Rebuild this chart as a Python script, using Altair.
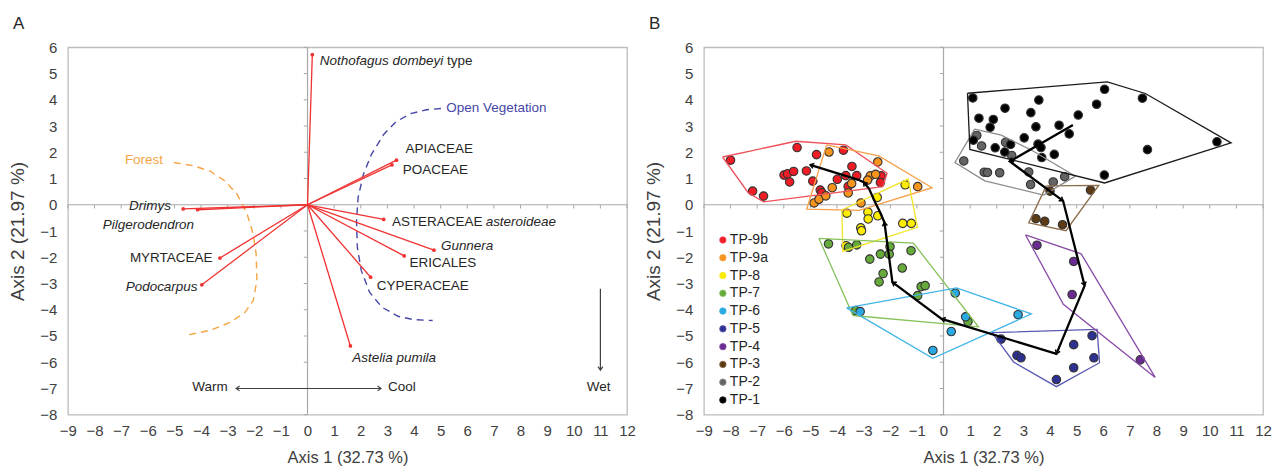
import math
import altair as alt
import pandas as pd

# ---------------- common ----------------
XDOM = [-9, 12]
YDOM = [-8, 6]
W, H = 560, 368
SX, SY = W / 21.0, H / 14.0
FN = "Liberation Sans, Arial, sans-serif"
TXT = "#262626"

x_ticks = list(range(-9, 13))
y_ticks = list(range(-8, 7))

# ---------------- Panel A data ----------------
taxa = ["Nothofagus dombeyi type", "APIACEAE", "POACEAE", "Drimys", "Pilgerodendron",
        "ASTERACEAE asteroideae", "Gunnera", "ERICALES", "CYPERACEAE", "MYRTACEAE",
        "Podocarpus", "Astelia pumila"]
taxa_x = [0.18, 3.34, 3.17, -4.67, -4.13, 2.86, 4.75, 3.63, 2.37, -3.29, -3.97, 1.61]
taxa_y = [5.72, 1.70, 1.52, -0.16, -0.19, -0.56, -1.73, -1.95, -2.76, -2.03, -3.05, -5.38]

lab_text = ["Nothofagus dombeyi", "type", "APIACEAE", "POACEAE", "Drimys", "Pilgerodendron",
            "ASTERACEAE", "asteroideae", "Gunnera", "ERICALES", "CYPERACEAE", "MYRTACEAE",
            "Podocarpus", "Astelia pumila"]
lab_x = [0.46, 5.24, 3.68, 3.58, -5.13, -4.26, 3.17, 6.69, 5.01, 3.83, 2.60, -3.57, -4.13, 1.68]
lab_y = [5.49, 5.49, 2.11, 1.32, -0.04, -0.76, -0.67, -0.67, -1.58, -2.22, -3.08, -2.03, -3.14, -5.82]
lab_align = ["left", "left", "left", "left", "right", "right", "left", "left", "left", "left",
             "left", "right", "right", "left"]
lab_italic = [1, 0, 0, 0, 1, 1, 0, 1, 1, 0, 0, 0, 1, 1]

forest_x = [-5.02, -4.26, -3.64, -3.11, -2.65, -2.27, -2.04, -1.93, -1.90, -2.04, -2.34, -2.88, -3.64, -4.56]
forest_y = [1.61, 1.48, 1.27, 0.91, 0.41, -0.35, -1.11, -1.87, -2.89, -3.65, -4.09, -4.47, -4.78, -4.97]
openveg_x = [5.01, 4.47, 3.86, 3.32, 2.86, 2.40, 2.10, 1.90, 1.84, 1.87, 2.02, 2.33, 2.79, 3.40, 4.01, 4.70]
openveg_y = [3.67, 3.62, 3.47, 3.16, 2.68, 1.92, 1.16, 0.28, -0.61, -1.62, -2.51, -3.33, -3.90, -4.25, -4.38, -4.41]

group_lab = ["Forest", "Open Vegetation"]
group_lab_x = [-6.86, 5.21]
group_lab_y = [1.70, 3.67]
group_lab_col = ["#F5A446", "#4646A6"]

ann_text = ["Warm", "Cool", "Wet"]
ann_x = [-3.0, 3.02, 10.93]
ann_y = [-6.94, -6.94, -6.94]
ann_align = ["right", "left", "center"]

arrow_x = [-2.68, 11.0]
arrow_x2 = [2.76, 11.0]
arrow_y = [-7.0, -3.2]
arrow_y2 = [-7.0, -6.3]
ahead_x = [2.76, -2.68, 11.0]
ahead_y = [-7.0, -7.0, -6.3]
ahead_ang = [90, 270, 180]

# ---------------- Panel B data ----------------
groups = ["TP-9b", "TP-9a", "TP-8", "TP-7", "TP-6", "TP-5", "TP-4", "TP-3", "TP-2", "TP-1"]
fill_cols = ["#EE1C25", "#F7941D", "#FFED00", "#66AA3C", "#2AAAE2", "#2E3192", "#6A2C91",
             "#5B3A14", "#646464", "#000000"]
line_cols = ["#F0505A", "#F7A04A", "#F2E425", "#86C25A", "#40B4E6", "#5A5AB4", "#8A4CA8",
             "#8C6A48", "#8C8C8C", "#1A1A1A"]

tp9b_x = [-8.0, -5.50, -4.77, -3.76, -3.44, -7.17, -6.76, -5.99, -5.86, -5.63, -5.78, -5.15,
          -4.91, -4.63, -4.57, -3.99, -3.67, -3.58, -3.26, -2.34, -2.37]
tp9b_y = [1.70, 2.18, 1.91, 2.08, 1.46, 0.52, 0.33, 1.13, 1.18, 1.27, 0.87, 1.29,
          0.90, 0.56, 0.46, 0.97, 1.11, 0.70, 1.11, 1.10, 0.85]
tp9a_x = [-4.30, -2.47, -4.18, -3.45, -2.75, -2.55, -2.85, -3.10, -3.58, -4.86, -4.68, -4.42, -0.97]
tp9a_y = [2.01, 1.63, 0.65, 0.81, 1.10, 1.16, 0.94, 0.07, 0.45, 0.07, 0.21, 0.34, 0.69]
tp8_x = [-1.44, -2.49, -3.63, -2.84, -2.83, -2.47, -3.11, -3.08, -1.53, -1.21, -3.66]
tp8_y = [0.76, 0.28, -0.32, -0.28, -0.54, -0.42, -0.88, -0.99, -0.71, -0.71, -1.56]
tp7_x = [-4.32, -3.57, -3.26, -2.01, -2.04, -2.37, -2.77, -1.22, -1.55, -2.27, -2.42,
         -0.84, -0.69, -0.97, -3.30, 0.92]
tp7_y = [-1.49, -1.62, -1.53, -1.60, -1.88, -1.88, -2.07, -1.75, -2.41, -2.62, -2.94,
         -3.12, -3.08, -3.46, -4.03, -4.45]
tp6_x = [0.44, -3.13, 0.83, 2.80, 0.29, -0.40]
tp6_y = [-3.37, -4.07, -4.27, -4.19, -4.83, -5.55]
tp5_x = [2.16, 2.76, 2.91, 4.89, 5.58, 5.65, 4.89, 4.24]
tp5_y = [-5.12, -5.74, -5.83, -5.33, -4.99, -5.83, -6.21, -6.66]
tp4_x = [3.51, 4.89, 4.83, 7.39]
tp4_y = [-1.54, -2.16, -3.42, -5.91]
tp3_x = [3.47, 3.80, 4.47, 4.00, 5.52]
tp3_y = [-0.53, -0.63, -0.76, 0.52, 0.56]
tp2_x = [1.25, 1.43, 0.76, 1.53, 1.65, 2.11, 2.33, 2.56, 3.20, 3.27, 4.12, 4.55]
tp2_y = [2.64, 2.24, 1.67, 1.24, 1.23, 1.22, 2.38, 1.88, 1.25, 0.77, 0.87, 1.07]
tp1_x = [1.10, 6.05, 7.47, 3.58, 2.31, 3.28, 5.75, 1.33, 1.87, 1.75, 3.47, 4.34, 5.06, 3.03,
         4.72, 1.12, 1.94, 2.30, 2.52, 3.55, 3.66, 3.69, 4.16, 7.66, 10.27, 6.04]
tp1_y = [4.07, 4.40, 4.06, 3.99, 3.68, 3.51, 3.83, 3.30, 3.25, 2.95, 2.97, 3.03, 3.42, 2.55,
         2.70, 2.46, 2.17, 2.01, 2.30, 2.31, 2.18, 1.80, 1.92, 2.10, 2.40, 1.13]

poly9b_x = [-8.30, -5.55, -3.67, -2.12, -2.28, -6.76, -7.33]
poly9b_y = [1.82, 2.42, 2.28, 1.20, 0.69, 0.11, 0.45]
poly9a_x = [-4.39, -2.43, -0.43, -3.17, -5.14]
poly9a_y = [2.28, 1.86, 0.65, -0.21, -0.17]
poly8_x = [-3.82, -1.33, -0.98, -3.78]
poly8_y = [-0.20, 0.98, -0.86, -1.78]
poly7_x = [-4.68, -1.13, 1.31, -3.40]
poly7_y = [-1.28, -1.46, -4.65, -4.22]
poly6_x = [-3.64, 0.49, 3.30, -0.40]
poly6_y = [-3.93, -3.17, -4.16, -5.85]
poly5_x = [1.82, 5.77, 5.86, 4.24, 2.63]
poly5_y = [-4.87, -4.75, -6.02, -6.93, -5.99]
poly4_x = [3.08, 5.17, 7.95, 4.50]
poly4_y = [-1.15, -1.87, -6.58, -3.79]
poly3_x = [3.86, 5.83, 4.60, 3.20]
poly3_y = [0.72, 0.74, -0.99, -0.69]
poly2_x = [1.17, 2.17, 2.61, 3.36, 4.95, 3.76, 1.55, 0.43]
poly2_y = [2.88, 2.65, 2.43, 2.05, 1.09, 0.37, 0.91, 1.61]
poly1_x = [0.90, 6.15, 7.58, 10.80, 6.05, 0.99]
poly1_y = [4.25, 4.68, 4.24, 2.36, 0.83, 2.11]

traj_x = [4.86, 2.49, 4.49, 5.30, 4.24, -0.07, -1.92, -2.22, -2.40, -2.57, -2.80, -3.00, -3.22, -5.01]
traj_y = [3.04, 1.65, 0.15, -3.08, -5.68, -4.35, -2.95, -0.67, -0.25, 0.10, 0.62, 0.86, 0.96, 1.52]
traj_heads = [1, 2, 3, 4, 5, 6, 7, 11, 13]

# ---------------- helpers ----------------
CHEV = "M-0.8,1.15L0,0L0.8,1.15"


def ang(dx, dy):
    return math.degrees(math.atan2(dx * SX, dy * SY)) % 360


xaxis = alt.Axis(values=x_ticks, title="Axis 1 (32.73 %)", labelPadding=9, titlePadding=11,
                 titleFont=FN, titleFontSize=16.5, labelFlush=False)
yaxis = alt.Axis(values=y_ticks, title="Axis 2 (21.97 %)", labelPadding=11, titlePadding=12,
                 titleFont=FN, titleFontSize=19, labelFlush=False)
xs = alt.Scale(domain=XDOM, nice=False, zero=False)
ys = alt.Scale(domain=YDOM, nice=False, zero=False)


def X(f):
    return alt.X(f, type="quantitative", scale=xs, axis=xaxis)


def Y(f):
    return alt.Y(f, type="quantitative", scale=ys, axis=yaxis)


def zero_layers():
    z = pd.DataFrame({"v": [0]})
    vl = alt.Chart(z).mark_rule(color="#A8A8A8", strokeWidth=1.2).encode(x=X("v"))
    hl = alt.Chart(z).mark_rule(color="#A8A8A8", strokeWidth=1.2).encode(y=Y("v"))
    tx = pd.DataFrame({"t": x_ticks, "z": [0] * len(x_ticks)})
    ty = pd.DataFrame({"t": y_ticks, "z": [0] * len(y_ticks)})
    tkx = alt.Chart(tx).mark_point(shape="M0,0L0,1", size=56, filled=False, color="#A8A8A8",
                                   strokeWidth=1, opacity=1).encode(x=X("t"), y=Y("z"))
    tky = alt.Chart(ty).mark_point(shape="M-1,0L0,0", size=56, filled=False, color="#A8A8A8",
                                   strokeWidth=1, opacity=1).encode(x=X("z"), y=Y("t"))
    return [vl, hl, tkx, tky]


# ---------------- Panel A ----------------
vec = pd.DataFrame({"taxon": taxa, "x": taxa_x, "y": taxa_y, "o": [0.0] * len(taxa)})
vec_lines = alt.Chart(vec).mark_rule(color="#F03232", strokeWidth=1.3).encode(
    x=X("o"), y=Y("o"), x2=alt.X2("x"), y2=alt.Y2("y"))
vec_tips = alt.Chart(vec).mark_circle(color="#F03232", size=14, opacity=1).encode(x=X("x"), y=Y("y"))

labs = pd.DataFrame({"t": lab_text, "x": lab_x, "y": lab_y, "al": lab_align, "it": lab_italic})
lab_layers = []
for al in ["left", "right"]:
    for it in [0, 1]:
        sub = labs[(labs.al == al) & (labs.it == it)]
        if len(sub) == 0:
            continue
        lab_layers.append(
            alt.Chart(sub).mark_text(align=al, baseline="middle", font=FN, fontSize=13.5,
                                     fontStyle="italic" if it else "normal", color=TXT)
            .encode(x=X("x"), y=Y("y"), text="t:N"))

curves = pd.DataFrame({
    "x": forest_x + openveg_x,
    "y": forest_y + openveg_y,
    "g": ["Forest"] * len(forest_x) + ["Open Vegetation"] * len(openveg_x),
    "i": list(range(len(forest_x))) + list(range(len(openveg_x))),
})
curve_layer = alt.Chart(curves).mark_line(strokeDash=[7, 5], strokeWidth=1.4).encode(
    x=X("x"), y=Y("y"), order="i:Q",
    color=alt.Color("g:N", scale=alt.Scale(domain=group_lab, range=group_lab_col), legend=None))
glabs = pd.DataFrame({"t": group_lab, "x": group_lab_x, "y": group_lab_y})
glab_layer = alt.Chart(glabs).mark_text(align="left", baseline="middle", font=FN, fontSize=13.5).encode(
    x=X("x"), y=Y("y"), text="t:N",
    color=alt.Color("t:N", scale=alt.Scale(domain=group_lab, range=group_lab_col), legend=None))

anns = pd.DataFrame({"t": ann_text, "x": ann_x, "y": ann_y, "al": ann_align})
ann_layers = []
for al in ["left", "right", "center"]:
    ann_layers.append(
        alt.Chart(anns[anns.al == al]).mark_text(align=al, baseline="middle", font=FN, fontSize=13.5,
                                                 color=TXT).encode(x=X("x"), y=Y("y"), text="t:N"))
arrows = pd.DataFrame({"x": arrow_x, "x2": arrow_x2, "y": arrow_y, "y2": arrow_y2})
arrow_layer = alt.Chart(arrows).mark_rule(color="#404040", strokeWidth=1.2).encode(
    x=X("x"), y=Y("y"), x2=alt.X2("x2"), y2=alt.Y2("y2"))
heads = pd.DataFrame({"x": ahead_x, "y": ahead_y, "a": ahead_ang})
head_layer = alt.Chart(heads).mark_point(shape=CHEV, size=36, filled=False, color="#404040",
                                         strokeWidth=1.2, opacity=1).encode(
    x=X("x"), y=Y("y"), angle=alt.Angle("a:Q", scale=None))

letterA = alt.Chart(pd.DataFrame({"t": ["A"]})).mark_text(
    align="left", baseline="alphabetic", font=FN, fontSize=17, color=TXT).encode(
    x=alt.value(-55), y=alt.value(-18), text="t:N")

panelA = alt.layer(*zero_layers(), curve_layer, vec_lines, vec_tips, *lab_layers, glab_layer,
                   *ann_layers, arrow_layer, head_layer, letterA).properties(width=W, height=H)

# ---------------- Panel B ----------------
pts_x = [tp9b_x, tp9a_x, tp8_x, tp7_x, tp6_x, tp5_x, tp4_x, tp3_x, tp2_x, tp1_x]
pts_y = [tp9b_y, tp9a_y, tp8_y, tp7_y, tp6_y, tp5_y, tp4_y, tp3_y, tp2_y, tp1_y]
rows = []
for g, xl, yl in zip(groups, pts_x, pts_y):
    for a, b in zip(xl, yl):
        rows.append({"g": g, "x": a, "y": b})
pts = pd.DataFrame(rows)
pts["n"] = range(len(pts))

pol_x = [poly9b_x, poly9a_x, poly8_x, poly7_x, poly6_x, poly5_x, poly4_x, poly3_x, poly2_x, poly1_x]
pol_y = [poly9b_y, poly9a_y, poly8_y, poly7_y, poly6_y, poly5_y, poly4_y, poly3_y, poly2_y, poly1_y]
prow = []
for g, xl, yl in zip(groups, pol_x, pol_y):
    xx = xl + [xl[0]]
    yy = yl + [yl[0]]
    for i, (a, b) in enumerate(zip(xx, yy)):
        prow.append({"g": g, "x": a, "y": b, "i": i})
polys = pd.DataFrame(prow)

poly_layer = alt.Chart(polys).mark_line(strokeWidth=1.3).encode(
    x=X("x"), y=Y("y"), order="i:Q",
    color=alt.Color("g:N", scale=alt.Scale(domain=groups, range=line_cols), legend=None))

pt_layer = alt.Chart(pts).mark_circle(size=72, opacity=1, stroke="#333333", strokeWidth=1.1).encode(
    x=X("x"), y=Y("y"), order="n:Q",
    fill=alt.Fill("g:N", scale=alt.Scale(domain=groups, range=fill_cols),
                  legend=alt.Legend(title=None, orient="none", legendX=12, legendY=186,
                                    symbolType="circle", symbolSize=42, symbolStrokeColor="#333333",
                                    symbolStrokeWidth=0.8, labelFont=FN, labelFontSize=14,
                                    labelColor=TXT, rowPadding=3.8, labelOffset=0, padding=0)))

traj = pd.DataFrame({"x": traj_x, "y": traj_y, "i": range(len(traj_x))})
traj_layer = alt.Chart(traj).mark_line(color="#000000", strokeWidth=2.3).encode(
    x=X("x"), y=Y("y"), order="i:Q")
hx, hy, ha = [], [], []
for k in traj_heads:
    hx.append(traj_x[k])
    hy.append(traj_y[k])
    ha.append(ang(traj_x[k] - traj_x[k - 1], traj_y[k] - traj_y[k - 1]))
thead = pd.DataFrame({"x": hx, "y": hy, "a": ha})
thead_layer = alt.Chart(thead).mark_point(shape=CHEV, size=40, filled=False, color="#000000",
                                          strokeWidth=1.5, opacity=1).encode(
    x=X("x"), y=Y("y"), angle=alt.Angle("a:Q", scale=None))

letterB = alt.Chart(pd.DataFrame({"t": ["B"]})).mark_text(
    align="left", baseline="alphabetic", font=FN, fontSize=17, color=TXT).encode(
    x=alt.value(-55), y=alt.value(-18), text="t:N")

panelB = alt.layer(*zero_layers(), pt_layer, poly_layer, traj_layer, thead_layer, letterB).properties(
    width=W, height=H)

chart = alt.hconcat(panelA, panelB, spacing=8).properties(
    padding={"left": 0, "top": 6, "right": 2, "bottom": 0}
).configure_view(stroke="#BDBDBD", strokeWidth=1.3).configure_axis(
    grid=False, domain=False, ticks=False, labelFont=FN, labelFontSize=15,
    labelColor="#404040", titleColor="#404040", titleFontWeight="normal"
).resolve_scale(color="independent", fill="independent").resolve_legend(fill="independent")

chart.save("out.html", embed_options={"renderer": "svg", "actions": False})
